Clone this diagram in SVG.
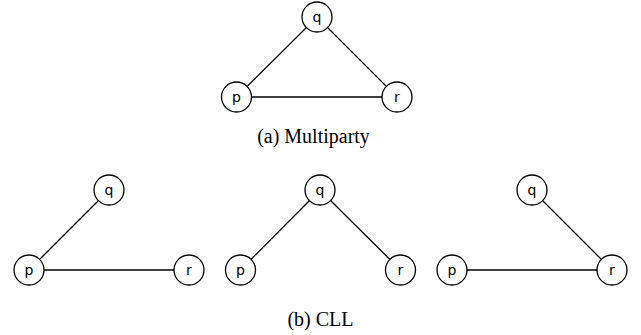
<svg xmlns="http://www.w3.org/2000/svg" width="641" height="335" viewBox="0 0 641 335">
  <style>
    .node circle { fill: #ffffff; stroke: #000000; stroke-width: 1.3; }
    .node text { font-family: "DejaVu Sans", sans-serif; font-size: 14px; text-anchor: middle; fill: #000000; }
    .edges line { stroke: #000000; stroke-width: 1.3; }
    .caption { font-family: "Liberation Serif", serif; font-size: 20px; text-anchor: middle; fill: #000000; }
  </style>
  <rect width="641" height="335" fill="#ffffff"/>

  <!-- (a) Multiparty: full triangle -->
  <g id="edges-a" class="edges">
    <line x1="236.5" y1="97" x2="317" y2="17"/>
    <line x1="317" y1="17" x2="397" y2="97"/>
    <line x1="236.5" y1="97" x2="397" y2="97"/>
  </g>
  <g id="a-q" class="node"><circle cx="317" cy="17" r="15"/><text x="317" y="21.5">q</text></g>
  <g id="a-p" class="node"><circle cx="236.5" cy="97" r="15"/><text x="236.5" y="101.5">p</text></g>
  <g id="a-r" class="node"><circle cx="397" cy="97" r="15"/><text x="397" y="101.5">r</text></g>
  <text class="caption" x="313.5" y="143">(a) Multiparty</text>

  <!-- (b) CLL: three trees -->
  <g id="edges-b" class="edges">
    <line x1="29" y1="270" x2="109" y2="190"/>
    <line x1="29" y1="270" x2="189" y2="270"/>
    <line x1="240.5" y1="270" x2="320" y2="190"/>
    <line x1="320" y1="190" x2="400.5" y2="270"/>
    <line x1="452" y1="270" x2="612" y2="270"/>
    <line x1="532" y1="190" x2="612" y2="270"/>
  </g>
  <g id="b1-q" class="node"><circle cx="109" cy="190" r="15"/><text x="109" y="194.5">q</text></g>
  <g id="b1-p" class="node"><circle cx="29" cy="270" r="15"/><text x="29" y="274.5">p</text></g>
  <g id="b1-r" class="node"><circle cx="189" cy="270" r="15"/><text x="189" y="274.5">r</text></g>
  <g id="b2-q" class="node"><circle cx="320" cy="190" r="15"/><text x="320" y="194.5">q</text></g>
  <g id="b2-p" class="node"><circle cx="240.5" cy="270" r="15"/><text x="240.5" y="274.5">p</text></g>
  <g id="b2-r" class="node"><circle cx="400.5" cy="270" r="15"/><text x="400.5" y="274.5">r</text></g>
  <g id="b3-q" class="node"><circle cx="532" cy="190" r="15"/><text x="532" y="194.5">q</text></g>
  <g id="b3-p" class="node"><circle cx="452" cy="270" r="15"/><text x="452" y="274.5">p</text></g>
  <g id="b3-r" class="node"><circle cx="612" cy="270" r="15"/><text x="612" y="274.5">r</text></g>
  <text class="caption" x="320.5" y="326">(b) CLL</text>
</svg>
